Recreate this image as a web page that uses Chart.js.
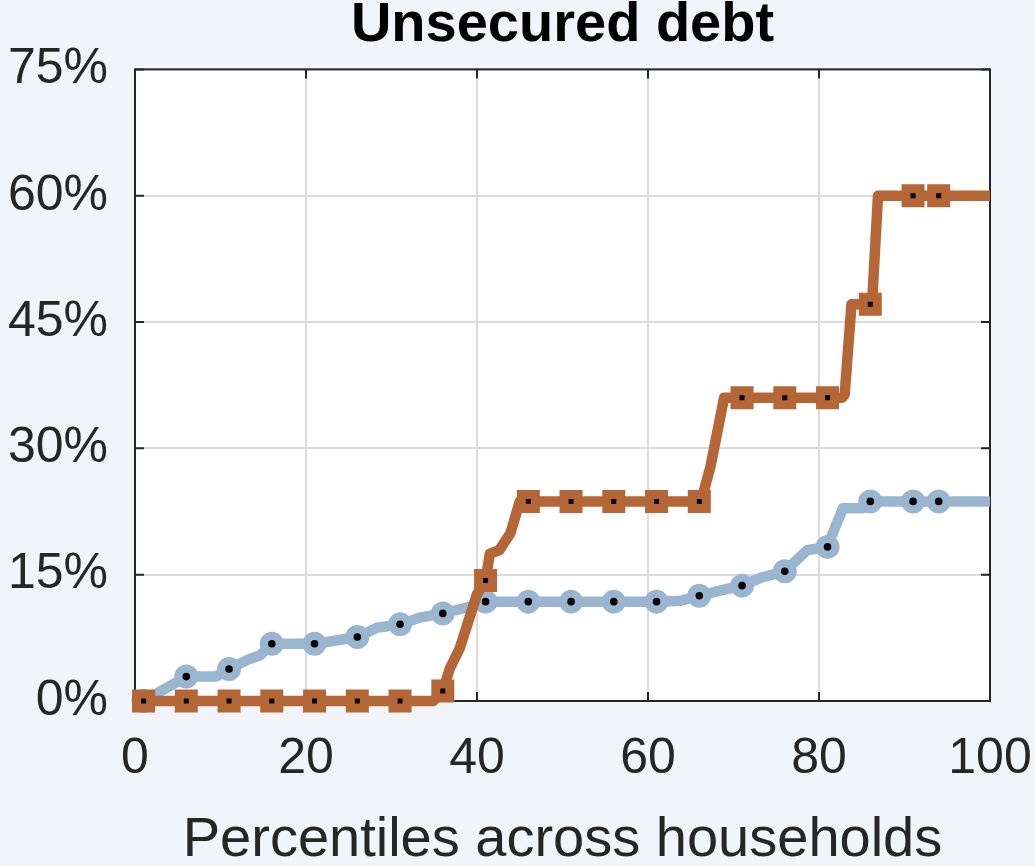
<!DOCTYPE html>
<html>
<head>
<meta charset="utf-8">
<title>Unsecured debt</title>
<script src="https://cdn.jsdelivr.net/npm/chart.js@4.4.1/dist/chart.umd.min.js"></script>
<style>
    html, body { margin: 0; padding: 0; background: #f1f5f9; }
    #wrap { width: 1035px; height: 866px; }
</style>
</head>
<body>
<div id="wrap"><canvas id="debtChart" width="1035" height="866"></canvas></div>
<script>
// ====================== //
// DATA                   //
// ====================== //

// Blue series: full line and marker positions (percentile, share %)
const blueLineX = [1, 6, 9.5, 11, 13.4, 14.6, 16, 21.2, 26, 28.3, 31, 33.3, 36, 38.8, 40.4, 41, 61, 63.8, 66, 68.4, 71, 73.1, 76, 78.6, 81, 81.6, 82.8, 85.1, 86, 100];
const blueLineY = [0, 2.9, 2.9, 3.8, 5.0, 5.4, 6.8, 6.8, 7.6, 8.7, 9.1, 9.9, 10.4, 11.1, 11.5, 11.8, 11.8, 11.9, 12.5, 13.1, 13.7, 14.6, 15.4, 17.9, 18.3, 19.9, 22.9, 22.9, 23.7, 23.7];
const blueMarkX = [1, 6, 11, 16, 21, 26, 31, 36, 41, 46, 51, 56, 61, 66, 71, 76, 81, 86, 91, 94];
const blueMarkY = [0, 2.9, 3.8, 6.8, 6.8, 7.6, 9.1, 10.4, 11.8, 11.8, 11.8, 11.8, 11.8, 12.5, 13.7, 15.4, 18.3, 23.7, 23.7, 23.7];

// Orange series
const orangeLineX = [1, 34.9, 36, 36.8, 38, 40, 41, 41.5, 42.6, 43.9, 45, 66.2, 67.3, 68.9, 82.7, 83.0, 83.8, 86.2, 86.9, 100];
const orangeLineY = [0, 0, 1.2, 3.8, 6.3, 12.7, 14.3, 17.5, 17.9, 19.9, 23.7, 23.7, 27.8, 36.0, 36.0, 36.4, 47.1, 47.1, 60, 60];
const orangeMarkX = [1, 6, 11, 16, 21, 26, 31, 36, 41, 46, 51, 56, 61, 66, 71, 76, 81, 86, 91, 94];
const orangeMarkY = [0, 0, 0, 0, 0, 0, 0, 1.2, 14.3, 23.7, 23.7, 23.7, 23.7, 23.7, 36, 36, 36, 47.1, 60, 60];

// Axis ticks
const xTicks = [0, 20, 40, 60, 80, 100];
const xTickLabels = ['0', '20', '40', '60', '80', '100'];
const yTicks = [0, 15, 30, 45, 60, 75];
const yTickLabels = ['0%', '15%', '30%', '45%', '60%', '75%'];

// ====================== //
// STYLE                  //
// ====================== //

const FONT = "'Liberation Sans', Arial, Helvetica, sans-serif";
const TEXT = '#262626';
const AXIS = '#262626';
const GRID = '#dcdcdc';
const BLUE = '#9ab5cf';
const ORANGE = '#b56636';
const TICK_LEN = 9;

const toPoints = (xs, ys) => xs.map((x, i) => ({ x: x, y: ys[i] }));

// White plot background, box with inward ticks, title centred over the plot
const plotFrame = {
    id: 'plotFrame',
    afterLayout(chart) {
        const a = chart.chartArea;
        if (chart.titleBlock) {
            chart.titleBlock.left = a.left;
            chart.titleBlock.right = a.right;
        }
    },
    beforeDraw(chart) {
        const { ctx, chartArea: a } = chart;
        ctx.save();
        ctx.fillStyle = '#ffffff';
        ctx.fillRect(a.left, a.top, a.right - a.left, a.bottom - a.top);
        ctx.restore();
    },
    beforeDatasetsDraw(chart) {
        const { ctx, chartArea: a, scales } = chart;
        ctx.save();
        ctx.strokeStyle = AXIS;
        ctx.lineWidth = 2;
        ctx.strokeRect(a.left, a.top, a.right - a.left, a.bottom - a.top);

        ctx.beginPath();
        xTicks.forEach(v => {
            const px = scales.x.getPixelForValue(v);
            ctx.moveTo(px, a.bottom);
            ctx.lineTo(px, a.bottom - TICK_LEN);
            ctx.moveTo(px, a.top);
            ctx.lineTo(px, a.top + TICK_LEN);
        });
        yTicks.forEach(v => {
            const py = scales.y.getPixelForValue(v);
            ctx.moveTo(a.left, py);
            ctx.lineTo(a.left + TICK_LEN, py);
            ctx.moveTo(a.right, py);
            ctx.lineTo(a.right - TICK_LEN, py);
        });
        ctx.stroke();
        ctx.restore();
    }
};

class DebtChart {
    constructor(canvasId) {
        this.canvas = document.getElementById(canvasId);
        this.init();
    }

    lineSet(xs, ys, color, order) {
        return {
            data: toPoints(xs, ys),
            borderColor: color,
            borderWidth: 10.5,
            borderJoinStyle: 'round',
            pointRadius: 0,
            fill: false,
            tension: 0,
            clip: false,
            order: order
        };
    }

    markerSet(xs, ys, color, style, radius, width, order) {
        return {
            data: toPoints(xs, ys),
            showLine: false,
            pointStyle: style,
            pointRadius: radius,
            pointBorderWidth: width,
            pointBorderColor: color,
            pointBackgroundColor: '#000000',
            clip: false,
            order: order
        };
    }

    init() {
        new Chart(this.canvas, {
            type: 'line',
            data: {
                datasets: [
                    this.markerSet(orangeMarkX, orangeMarkY, ORANGE, 'rect', 9.9, 9, 0),
                    this.lineSet(orangeLineX, orangeLineY, ORANGE, 1),
                    this.markerSet(blueMarkX, blueMarkY, BLUE, 'circle', 7.9, 8.2, 2),
                    this.lineSet(blueLineX, blueLineY, BLUE, 3)
                ]
            },
            options: {
                responsive: false,
                devicePixelRatio: 1,
                animation: false,
                events: [],
                layout: { padding: { left: 0, right: 0, top: 0, bottom: 0 } },
                plugins: {
                    legend: { display: false },
                    tooltip: { enabled: false },
                    title: {
                        display: true,
                        text: 'Unsecured debt',
                        color: '#000000',
                        font: { family: FONT, size: 56, weight: 'bold', lineHeight: 0.9 },
                        padding: { top: 0, bottom: 19 }
                    }
                },
                scales: {
                    x: {
                        type: 'linear',
                        min: 0,
                        max: 100,
                        afterBuildTicks: scale => { scale.ticks = xTicks.map(v => ({ value: v })); },
                        afterFit: scale => {
                            scale.height = 165;
                            scale.paddingLeft = 0;
                            scale.paddingRight = 45;
                        },
                        ticks: {
                            callback: (v, i) => xTickLabels[i],
                            color: TEXT,
                            font: { family: FONT, size: 50 },
                            padding: 28,
                            maxRotation: 0,
                            autoSkip: false
                        },
                        grid: { color: GRID, lineWidth: 2, drawTicks: false },
                        border: { display: false },
                        title: {
                            display: true,
                            text: 'Percentiles across households',
                            color: TEXT,
                            font: { family: FONT, size: 56, lineHeight: 0.9 },
                            padding: { top: 0, bottom: 0 }
                        }
                    },
                    y: {
                        type: 'linear',
                        min: 0,
                        max: 75,
                        afterBuildTicks: scale => { scale.ticks = yTicks.map(v => ({ value: v })); },
                        afterFit: scale => { scale.width = 135; },
                        ticks: {
                            callback: (v, i) => yTickLabels[i],
                            color: TEXT,
                            font: { family: FONT, size: 50 },
                            padding: 27,
                            autoSkip: false
                        },
                        grid: { color: GRID, lineWidth: 2, drawTicks: false },
                        border: { display: false }
                    }
                }
            },
            plugins: [plotFrame]
        });
    }
}

document.addEventListener('DOMContentLoaded', () => {
    new DebtChart('debtChart');
});
</script>
</body>
</html>
